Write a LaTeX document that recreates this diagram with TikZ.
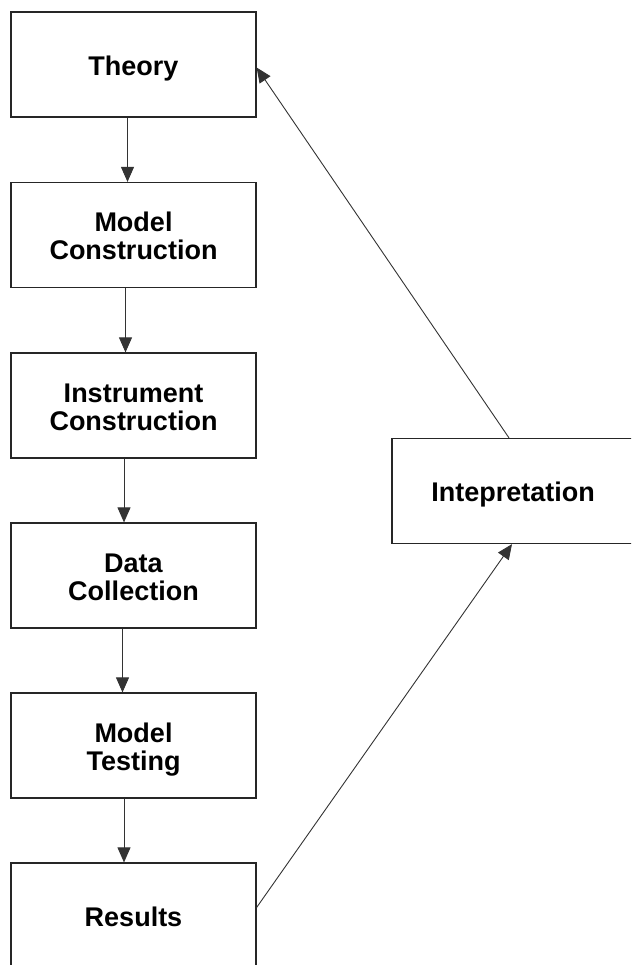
\documentclass[tikz,border=0pt]{standalone}
\usepackage{fontspec}
\setmainfont{Liberation Sans}
\usetikzlibrary{arrows.meta,positioning}
\newcommand{\lowtxt}[1]{\raisebox{-5pt}[\height][\depth]{\begin{tabular}{@{}c@{}}#1\end{tabular}}}
\begin{document}
\begin{tikzpicture}[x=1pt,y=-1pt,
  box/.style={draw=black!85,line width=1.2pt,rectangle,minimum width=245pt,minimum height=105pt,
    align=center,font=\fontsize{27}{28}\selectfont\bfseries,inner sep=0pt},
  arr/.style={draw=black!80,line width=0.9pt,-{Triangle[length=15pt,width=13pt]}}]
\useasboundingbox (0,0) rectangle (631,965);
\clip (0,0) rectangle (631,965);
\node[box] (theory) at (133.5,64.5) {\lowtxt{Theory}};
\node[box] (mc) at (133.5,235) {\lowtxt{Model\\Construction}};
\node[box] (ic) at (133.5,405.5) {\lowtxt{Instrument\\Construction}};
\node[box] (dc) at (133.5,575.5) {\lowtxt{Data\\Collection}};
\node[box] (mt) at (133.5,745.5) {\lowtxt{Model\\Testing}};
\node[box] (res) at (133.5,915.5) {\lowtxt{Results}};
\node[box,minimum width=242pt] (int) at (513,491) {\lowtxt{Intepretation}};
\draw[arr] ([xshift=-6pt]theory.south) -- ([xshift=-6pt]mc.north);
\draw[arr] ([xshift=-8pt]mc.south) -- ([xshift=-8pt]ic.north);
\draw[arr] ([xshift=-9.5pt]ic.south) -- ([xshift=-9.5pt]dc.north);
\draw[arr] ([xshift=-11pt]dc.south) -- ([xshift=-11pt]mt.north);
\draw[arr] ([xshift=-9.5pt]mt.south) -- ([xshift=-9.5pt]res.north);
\draw[arr] ([yshift=8pt]res.east) -- ([xshift=-1pt]int.south);
\draw[arr] ([xshift=-4pt]int.north) -- ([yshift=-3pt]theory.east);
\end{tikzpicture}
\end{document}
